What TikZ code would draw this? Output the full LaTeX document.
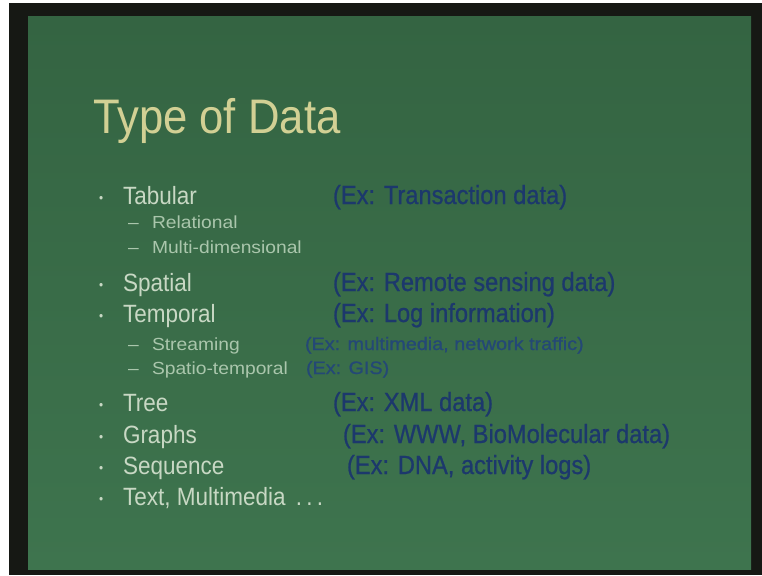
\documentclass[tikz,border=0pt]{standalone}
\usepackage{fontspec}
\setmainfont{Liberation Sans}[FakeStretch=0.9]
\newfontfamily\exfont{Liberation Sans}[FakeStretch=0.9,FakeBold=0.8]
\newfontfamily\subfont{Liberation Sans}[FakeStretch=1.1]
\newfontfamily\exsubfont{Liberation Sans}[FakeStretch=1.1,FakeBold=0.8]
\definecolor{frame}{RGB}{22,24,20}
\definecolor{boardtop}{RGB}{52,100,66}
\definecolor{boardbot}{RGB}{62,116,78}
\definecolor{titlecol}{RGB}{210,208,148}
\definecolor{itemcol}{RGB}{200,216,196}
\definecolor{subcol}{RGB}{170,198,172}
\definecolor{excol}{RGB}{28,56,108}
\definecolor{exsmall}{RGB}{36,72,118}
\tikzset{
  base/.style={inner sep=0pt, outer sep=0pt, anchor=base west},
  titletext/.style={base, text=titlecol, font=\fontsize{48.5}{50}\selectfont},
  item/.style={base, text=itemcol, font=\fontsize{25}{26}\selectfont},
  bul/.style={base, text=itemcol, font=\fontsize{13}{14}\selectfont},
  subitem/.style={base, text=subcol, font=\subfont\fontsize{17.5}{19}\selectfont},
  ex/.style={base, text=excol, font=\exfont\fontsize{26.3}{28}\selectfont},
  exs/.style={base, text=exsmall, font=\exsubfont\fontsize{18}{19}\selectfont},
}
\begin{document}
\begin{tikzpicture}[x=1pt,y=-1pt]
\useasboundingbox (0,0) rectangle (762,575);
\fill[white] (0,0) rectangle (762,575);
\fill[frame] (9,3) rectangle (762,575);
\shade[top color=boardtop, bottom color=boardbot] (28,17) rectangle (751,569);

\node[titletext] (title) at (93,133) {Type of Data};

% main bullets
\node[bul] (b1) at (99,202) {•};
\node[item] (tab) at (123,204) {Tabular};
\node[subitem] (d1) at (128,228) {–};
\node[subitem] (rel) at (152,228) {Relational};
\node[subitem] (d2) at (128,253) {–};
\node[subitem] (mul) at (152,253) {Multi-dimensional};
\node[bul] (b2) at (99,289) {•};
\node[item] (spa) at (123,291) {Spatial};
\node[bul] (b3) at (99,320) {•};
\node[item] (tem) at (123,322) {Temporal};
\node[subitem] (d3) at (128,350) {–};
\node[subitem] (str) at (152,350) {Streaming};
\node[subitem] (d4) at (128,374) {–};
\node[subitem] (spt) at (152,374) {Spatio-temporal};
\node[bul] (b4) at (99,409) {•};
\node[item] (tree) at (123,411) {Tree};
\node[bul] (b5) at (99,441) {•};
\node[item] (gra) at (123,443) {Graphs};
\node[bul] (b6) at (99,472) {•};
\node[item] (seq) at (123,474) {Sequence};
\node[bul] (b7) at (99,503) {•};
\node[item] (txt) at (123,505) {Text, Multimedia \,.\,.\,.};

% examples
\node[ex] (e1) at (333,204) {(Ex: Transaction data)};
\node[ex] (e2) at (333,291) {(Ex: Remote sensing data)};
\node[ex] (e3) at (333,322) {(Ex: Log information)};
\node[exs] (e4) at (305,350) {(Ex: multimedia, network traffic)};
\node[exs] (e5) at (306,374) {(Ex: GIS)};
\node[ex] (e6) at (333,411) {(Ex: XML data)};
\node[ex] (e7) at (343,443) {(Ex: WWW, BioMolecular data)};
\node[ex] (e8) at (347,474) {(Ex: DNA, activity logs)};
\end{tikzpicture}
\end{document}
